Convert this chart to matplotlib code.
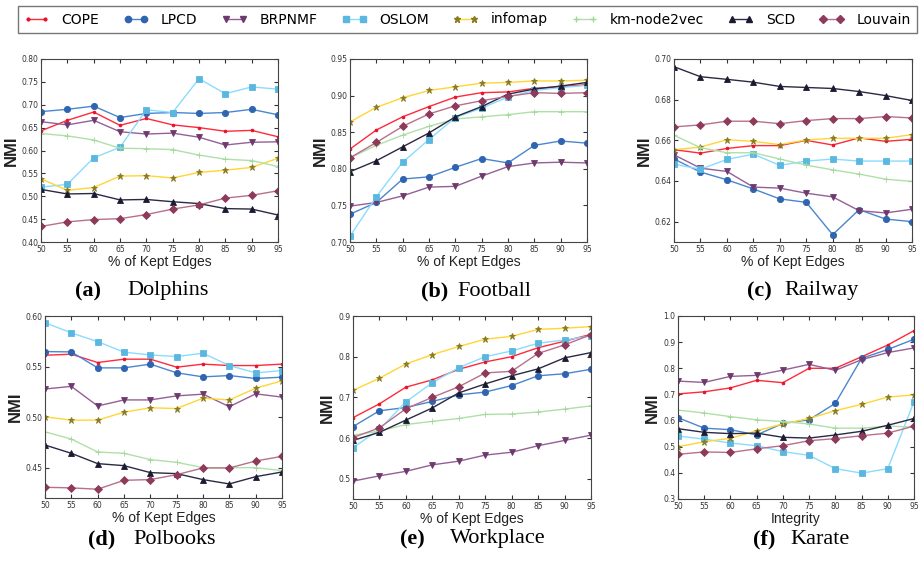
import numpy as np
import matplotlib.pyplot as plt
from matplotlib.lines import Line2D

# доля сохранённых рёбер
x = [50, 55, 60, 65, 70, 75, 80, 85, 90, 95]

methods = ["COPE", "LPCD", "BRPNMF", "OSLOM", "infomap", "km-node2vec", "SCD", "Louvain"]

# (a) Dolphins
dolphins_cope = [0.643, 0.666, 0.684, 0.655, 0.670, 0.656, 0.650, 0.642, 0.644, 0.630]
dolphins_lpcd = [0.685, 0.690, 0.697, 0.672, 0.681, 0.683, 0.681, 0.683, 0.690, 0.678]
dolphins_brpnmf = [0.663, 0.656, 0.666, 0.641, 0.636, 0.638, 0.629, 0.612, 0.618, 0.619]
dolphins_oslom = [0.520, 0.526, 0.584, 0.607, 0.689, 0.683, 0.757, 0.724, 0.739, 0.734]
dolphins_infomap = [0.538, 0.513, 0.519, 0.544, 0.545, 0.540, 0.552, 0.557, 0.563, 0.583]
dolphins_km = [0.637, 0.632, 0.623, 0.605, 0.604, 0.602, 0.590, 0.581, 0.578, 0.565]
dolphins_scd = [0.515, 0.505, 0.506, 0.492, 0.493, 0.488, 0.484, 0.473, 0.472, 0.459]
dolphins_louvain = [0.434, 0.444, 0.449, 0.451, 0.460, 0.472, 0.481, 0.496, 0.502, 0.512]

# (b) Football
football_cope = [0.827, 0.853, 0.871, 0.885, 0.898, 0.904, 0.905, 0.910, 0.912, 0.915]
football_lpcd = [0.738, 0.754, 0.786, 0.789, 0.802, 0.814, 0.808, 0.832, 0.838, 0.835]
football_brpnmf = [0.749, 0.754, 0.763, 0.775, 0.776, 0.790, 0.803, 0.808, 0.809, 0.808]
football_oslom = [0.708, 0.762, 0.809, 0.840, 0.870, 0.883, 0.898, 0.907, 0.911, 0.914]
football_infomap = [0.864, 0.884, 0.897, 0.907, 0.912, 0.917, 0.918, 0.920, 0.920, 0.921]
football_km = [0.815, 0.832, 0.846, 0.858, 0.868, 0.871, 0.874, 0.878, 0.878, 0.878]
football_scd = [0.796, 0.811, 0.830, 0.849, 0.871, 0.885, 0.902, 0.909, 0.913, 0.918]
football_louvain = [0.815, 0.836, 0.858, 0.875, 0.886, 0.893, 0.899, 0.904, 0.903, 0.904]

# (c) Railway
railway_cope = [0.6554, 0.6537, 0.6560, 0.6574, 0.6574, 0.6600, 0.6577, 0.6612, 0.6595, 0.6605]
railway_lpcd = [0.6508, 0.6444, 0.6406, 0.6361, 0.6312, 0.6295, 0.6136, 0.6259, 0.6213, 0.6200]
railway_brpnmf = [0.6529, 0.6463, 0.6447, 0.6370, 0.6365, 0.6340, 0.6322, 0.6254, 0.6243, 0.6261]
railway_oslom = [0.6483, 0.6458, 0.6506, 0.6532, 0.6477, 0.6498, 0.6508, 0.6498, 0.6498, 0.6498]
railway_infomap = [0.6554, 0.6567, 0.6603, 0.6595, 0.6579, 0.6602, 0.6610, 0.6610, 0.6610, 0.6628]
railway_km = [0.6625, 0.6564, 0.6539, 0.6539, 0.6508, 0.6478, 0.6455, 0.6434, 0.6409, 0.6398]
railway_scd = [0.6962, 0.6913, 0.6900, 0.6886, 0.6865, 0.6860, 0.6855, 0.6840, 0.6820, 0.6796]
railway_louvain = [0.6666, 0.6676, 0.6694, 0.6694, 0.6682, 0.6697, 0.6707, 0.6707, 0.6717, 0.6710]

# (d) Polbooks
polbooks_cope = [0.5612, 0.5622, 0.5540, 0.5573, 0.5573, 0.5494, 0.5524, 0.5510, 0.5510, 0.5524]
polbooks_lpcd = [0.5648, 0.5645, 0.5487, 0.5487, 0.5524, 0.5438, 0.5398, 0.5411, 0.5382, 0.5395]
polbooks_brpnmf = [0.5278, 0.5304, 0.5110, 0.5170, 0.5170, 0.5210, 0.5227, 0.5103, 0.5230, 0.5198]
polbooks_oslom = [0.5934, 0.5833, 0.5747, 0.5642, 0.5615, 0.5599, 0.5632, 0.5510, 0.5438, 0.5460]
polbooks_infomap = [0.5003, 0.4970, 0.4970, 0.5049, 0.5092, 0.5085, 0.5187, 0.5170, 0.5285, 0.5360]
polbooks_km = [0.4855, 0.4783, 0.4655, 0.4642, 0.4580, 0.4553, 0.4500, 0.4500, 0.4500, 0.4471]
polbooks_scd = [0.4724, 0.4642, 0.4540, 0.4520, 0.4451, 0.4441, 0.4382, 0.4339, 0.4411, 0.4457]
polbooks_louvain = [0.4306, 0.4300, 0.4287, 0.4375, 0.4382, 0.4431, 0.4497, 0.4497, 0.4566, 0.4612]

# (e) Workplace
workplace_cope = [0.650, 0.684, 0.725, 0.743, 0.769, 0.787, 0.800, 0.822, 0.838, 0.855]
workplace_lpcd = [0.628, 0.667, 0.675, 0.690, 0.706, 0.713, 0.729, 0.753, 0.758, 0.769]
workplace_brpnmf = [0.494, 0.507, 0.518, 0.534, 0.543, 0.558, 0.565, 0.581, 0.594, 0.607]
workplace_oslom = [0.576, 0.621, 0.689, 0.736, 0.773, 0.800, 0.814, 0.833, 0.841, 0.851]
workplace_infomap = [0.717, 0.747, 0.782, 0.805, 0.825, 0.843, 0.850, 0.867, 0.870, 0.874]
workplace_km = [0.607, 0.617, 0.633, 0.641, 0.648, 0.658, 0.659, 0.664, 0.671, 0.679]
workplace_scd = [0.594, 0.614, 0.644, 0.674, 0.711, 0.733, 0.753, 0.770, 0.797, 0.810]
workplace_louvain = [0.601, 0.625, 0.672, 0.700, 0.726, 0.760, 0.764, 0.808, 0.829, 0.854]

# (f) Karate
karate_cope = [0.702, 0.710, 0.725, 0.754, 0.745, 0.800, 0.800, 0.844, 0.889, 0.944]
karate_lpcd = [0.611, 0.571, 0.565, 0.545, 0.589, 0.603, 0.666, 0.838, 0.872, 0.911]
karate_brpnmf = [0.751, 0.746, 0.769, 0.773, 0.793, 0.815, 0.792, 0.833, 0.860, 0.878]
karate_oslom = [0.541, 0.529, 0.514, 0.504, 0.481, 0.467, 0.416, 0.399, 0.416, 0.672]
karate_infomap = [0.500, 0.519, 0.532, 0.561, 0.587, 0.608, 0.638, 0.662, 0.690, 0.698]
karate_km = [0.640, 0.629, 0.615, 0.603, 0.596, 0.587, 0.571, 0.571, 0.579, 0.575]
karate_scd = [0.569, 0.555, 0.550, 0.552, 0.536, 0.533, 0.545, 0.559, 0.582, 0.608]
karate_louvain = [0.471, 0.480, 0.478, 0.492, 0.504, 0.523, 0.531, 0.542, 0.552, 0.579]

# стили линий: (цвет линии, маркер, цвет маркера, размер)
styles = {
    "COPE": ("#ff2a3a", ".", "#e8102a", 4),
    "LPCD": ("#4a86d0", "o", "#2e64b0", 4.5),
    "BRPNMF": ("#946096", "v", "#6e3a6e", 5),
    "OSLOM": ("#8adcff", "s", "#5ab8e0", 5),
    "infomap": ("#ffd633", "*", "#8a7a20", 5),
    "km-node2vec": ("#b0e0a8", "+", "#a0d898", 4),
    "SCD": ("#2a2a44", "^", "#1a1a30", 4.5),
    "Louvain": ("#b8708c", "D", "#8e3a5a", 4.5),
}

panels = [
    ("(a)", "Dolphins", "% of Kept Edges",
     [dolphins_cope, dolphins_lpcd, dolphins_brpnmf, dolphins_oslom,
      dolphins_infomap, dolphins_km, dolphins_scd, dolphins_louvain],
     (0.40, 0.80), [0.40, 0.45, 0.50, 0.55, 0.60, 0.65, 0.70, 0.75, 0.80], "%.2f"),
    ("(b)", "Football", "% of Kept Edges",
     [football_cope, football_lpcd, football_brpnmf, football_oslom,
      football_infomap, football_km, football_scd, football_louvain],
     (0.70, 0.95), [0.70, 0.75, 0.80, 0.85, 0.90, 0.95], "%.2f"),
    ("(c)", "Railway", "% of Kept Edges",
     [railway_cope, railway_lpcd, railway_brpnmf, railway_oslom,
      railway_infomap, railway_km, railway_scd, railway_louvain],
     (0.61, 0.70), [0.62, 0.64, 0.66, 0.68, 0.70], "%.2f"),
    ("(d)", "Polbooks", "% of Kept Edges",
     [polbooks_cope, polbooks_lpcd, polbooks_brpnmf, polbooks_oslom,
      polbooks_infomap, polbooks_km, polbooks_scd, polbooks_louvain],
     (0.42, 0.60), [0.45, 0.50, 0.55, 0.60], "%.2f"),
    ("(e)", "Workplace", "% of Kept Edges",
     [workplace_cope, workplace_lpcd, workplace_brpnmf, workplace_oslom,
      workplace_infomap, workplace_km, workplace_scd, workplace_louvain],
     (0.45, 0.90), [0.5, 0.6, 0.7, 0.8, 0.9], "%.1f"),
    ("(f)", "Karate", "Integrity",
     [karate_cope, karate_lpcd, karate_brpnmf, karate_oslom,
      karate_infomap, karate_km, karate_scd, karate_louvain],
     (0.30, 1.00), [0.3, 0.4, 0.5, 0.6, 0.7, 0.8, 0.9, 1.0], "%.1f"),
]

# положения осей в пикселях: левый край, верх, ширина, высота
W, H = 920, 561
boxes = [(41, 59, 237, 183), (350, 59, 237, 183), (674, 59, 238, 183),
         (45, 316, 237, 182), (353, 316, 238, 183), (678, 316, 236, 183)]
# подписи: правый край метки, левый край названия, центр по вертикали
captions = [(101, 127, 291), (448, 457, 291), (772, 784, 291),
            (115, 133, 539), (425, 450, 539), (775, 790, 539)]

fig = plt.figure(figsize=(9.2, 5.61), dpi=100)

for (tag, name, xlabel, series, ylim, yticks, fmt), (l, t, w, h), (tx, nx, cy) in zip(panels, boxes, captions):
    ax = fig.add_axes([l / W, 1 - (t + h) / H, w / W, h / H])
    for m, y in zip(methods, series):
        lc, mk, mc, ms = styles[m]
        ax.plot(x, y, color=lc, lw=1.0, marker=mk, markersize=ms,
                markerfacecolor=mc, markeredgecolor=mc, markeredgewidth=0.6)
    ax.set_xlim(50, 95)
    ax.set_ylim(*ylim)
    ax.set_xticks(x)
    ax.set_yticks(yticks)
    ax.set_yticklabels([fmt % v for v in yticks])
    ax.tick_params(labelsize=5.5, direction="in", top=True, right=True,
                   length=3, colors="#333333", pad=2)
    for s in ax.spines.values():
        s.set_color("#444444")
        s.set_linewidth(0.8)
    ax.set_xlabel(xlabel, fontsize=10, color="#222222", labelpad=1,
                  family="Liberation Sans")
    ax.set_ylabel("NMI", fontsize=12, fontweight="bold", color="#222222",
                  labelpad=2, family="Liberation Sans")
    fig.text(tx / W, 1 - cy / H, tag, ha="right", va="center", fontsize=16,
             fontweight="bold", family="Liberation Serif")
    fig.text(nx / W, 1 - cy / H, name, ha="left", va="center", fontsize=16,
             family="Liberation Serif")

# общая легенда сверху
handles = []
for m in methods:
    lc, mk, mc, ms = styles[m]
    handles.append(Line2D([], [], color=lc, lw=1.0, marker=mk, markersize=ms,
                          markerfacecolor=mc, markeredgecolor=mc))
leg = fig.legend(handles, methods, loc="center", ncol=8,
                 bbox_to_anchor=(467.5 / W, 1 - 19.5 / H), fontsize=10,
                 frameon=True, fancybox=False, edgecolor="#555555",
                 handlelength=1.8, columnspacing=1.75, handletextpad=0.9,
                 borderpad=0.45, numpoints=2)
leg.get_frame().set_linewidth(1.0)

fig.savefig("out.png", dpi=100)
